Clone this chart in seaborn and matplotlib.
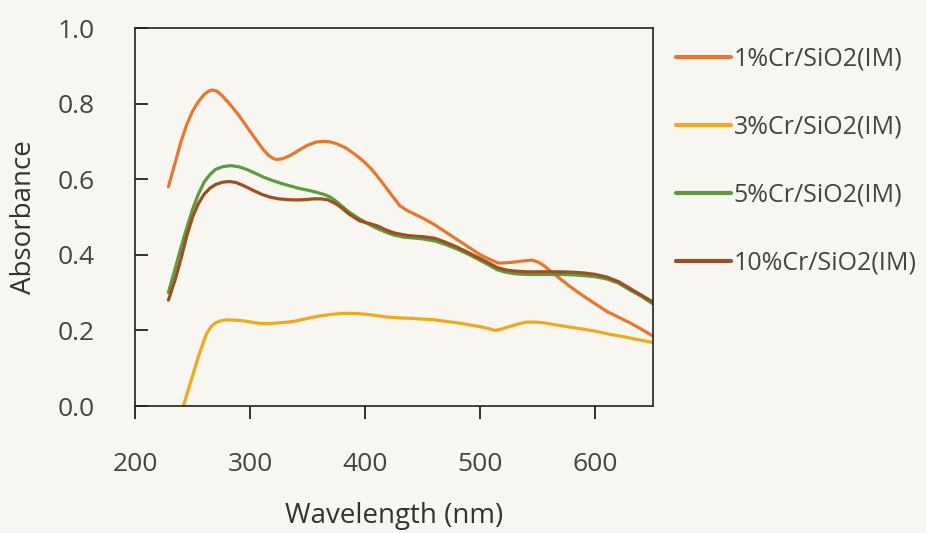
import matplotlib
matplotlib.use("Agg")
import matplotlib.pyplot as plt
import seaborn as sns
import pandas as pd

# ---- data ----
series_names = ["1%Cr/SiO2(IM)", "3%Cr/SiO2(IM)", "5%Cr/SiO2(IM)", "10%Cr/SiO2(IM)"]

wl_1 = [229, 235, 240, 245, 250, 255, 260, 264, 267, 271, 275, 282, 290, 298, 305, 311, 316,
        320, 323, 328, 335, 343, 350, 357, 363, 369, 375, 383, 390, 396, 400, 405,
        410, 415, 420, 425, 430, 436, 440, 450, 460, 470, 480, 490, 500, 508, 516, 523,
        530, 538, 545, 550, 555, 561, 568, 578, 590, 600, 610, 620, 630, 640, 650]
abs_1 = [0.58, 0.645, 0.70, 0.745, 0.78, 0.805, 0.824, 0.833, 0.836, 0.833, 0.823, 0.80,
         0.77, 0.735, 0.705, 0.68, 0.663, 0.655, 0.652, 0.654, 0.663, 0.678, 0.69, 0.698,
         0.70, 0.699, 0.694, 0.683, 0.668, 0.654, 0.643, 0.628, 0.61, 0.59, 0.57, 0.55,
         0.53, 0.518, 0.512, 0.497, 0.48, 0.46, 0.44, 0.42, 0.40, 0.388, 0.378, 0.379,
         0.381, 0.384, 0.386, 0.381, 0.372, 0.357, 0.34, 0.316, 0.29, 0.27, 0.25, 0.235,
         0.22, 0.203, 0.185]

wl_3 = [242, 245, 248, 252, 255, 259, 262, 266, 270, 275, 280, 288, 295, 303, 310, 318, 325,
        333, 340, 350, 360, 370, 380, 390, 400, 410, 420, 430, 440, 450, 460, 470,
        480, 490, 500, 507, 513, 519, 525, 533, 540, 548, 555, 565, 575, 588, 600,
        612, 625, 638, 650]
abs_3 = [0.0, 0.03, 0.06, 0.10, 0.13, 0.165, 0.19, 0.21, 0.22, 0.226, 0.228, 0.227, 0.225,
         0.221, 0.218, 0.218, 0.22, 0.222, 0.225, 0.232, 0.238, 0.242, 0.245, 0.245,
         0.243, 0.239, 0.235, 0.233, 0.232, 0.23, 0.228, 0.224, 0.22, 0.215, 0.21, 0.205,
         0.20, 0.204, 0.21, 0.217, 0.222, 0.222, 0.22, 0.215, 0.21, 0.204, 0.198, 0.19,
         0.183, 0.175, 0.168]

wl_5 = [229, 235, 240, 245, 250, 255, 260, 265, 270, 276, 283, 290, 297, 305, 312, 320, 327,
        335, 342, 350, 357, 365, 370, 375, 380, 385, 390, 395, 402, 410, 418, 425,
        433, 440, 450, 460, 470, 480, 490, 500, 508, 515, 522, 530, 540, 550, 560,
        570, 580, 590, 600, 610, 620, 630, 640, 650]
abs_5 = [0.30, 0.365, 0.42, 0.472, 0.52, 0.56, 0.592, 0.612, 0.626, 0.633, 0.636, 0.633,
         0.626, 0.615, 0.605, 0.596, 0.589, 0.582, 0.576, 0.571, 0.566, 0.559, 0.552,
         0.541, 0.528, 0.515, 0.505, 0.495, 0.483, 0.47, 0.46, 0.452, 0.447, 0.445,
         0.442, 0.437, 0.427, 0.415, 0.401, 0.385, 0.372, 0.36, 0.354, 0.35, 0.348,
         0.348, 0.348, 0.348, 0.347, 0.345, 0.342, 0.336, 0.325, 0.307, 0.29, 0.27]

wl_10 = [229, 235, 240, 245, 250, 255, 260, 265, 270, 276, 282, 288, 295, 303, 310, 318, 325,
         333, 340, 348, 355, 362, 368, 375, 380, 385, 390, 395, 402, 410, 418, 425,
         433, 440, 450, 460, 470, 480, 490, 500, 508, 515, 522, 530, 540, 550, 560,
         570, 580, 590, 600, 610, 620, 630, 640, 650]
abs_10 = [0.28, 0.335, 0.39, 0.45, 0.50, 0.535, 0.56, 0.576, 0.586, 0.592, 0.594, 0.591,
          0.582, 0.57, 0.56, 0.552, 0.548, 0.546, 0.545, 0.546, 0.548, 0.548, 0.545,
          0.534, 0.523, 0.51, 0.5, 0.49, 0.484, 0.477, 0.466, 0.458, 0.453, 0.45, 0.448,
          0.444, 0.433, 0.42, 0.405, 0.39, 0.377, 0.366, 0.36, 0.357, 0.355, 0.355,
          0.355, 0.355, 0.354, 0.352, 0.348, 0.341, 0.329, 0.311, 0.293, 0.275]

x_ticks = [200, 300, 400, 500, 600]
y_ticks = [0.0, 0.2, 0.4, 0.6, 0.8, 1.0]

colors = ["#E8772E", "#F0A81E", "#5E9A3F", "#9C4F1F"]

frames = []
for name, xs, ys in zip(series_names, [wl_1, wl_3, wl_5, wl_10],
                        [abs_1, abs_3, abs_5, abs_10]):
    frames.append(pd.DataFrame({"Wavelength": xs, "Absorbance": ys, "Sample": name}))
df = pd.concat(frames, ignore_index=True)

# ---- style ----
sns.set_theme(style="white")
plt.rcParams["font.family"] = ["Open Sans", "DejaVu Sans"]

bg = "#F8F6F1"
fig = plt.figure(figsize=(9.26, 5.33), dpi=100, facecolor=bg)
ax = fig.add_axes([135 / 926, 1 - 406 / 533, (653 - 135) / 926, (406 - 28) / 533])
ax.set_facecolor(bg)

sns.lineplot(data=df, x="Wavelength", y="Absorbance", hue="Sample",
             hue_order=series_names, palette=colors, sort=False,
             linewidth=2.3, ax=ax, legend=True)

ax.set_xlim(200, 650)
ax.set_ylim(0, 1.0)
ax.set_xticks(x_ticks)
ax.set_xticklabels([str(v) for v in x_ticks])
ax.set_yticks(y_ticks)
ax.set_yticklabels([f"{v:.1f}" for v in y_ticks])

for s in ax.spines.values():
    s.set_color("#222222")
    s.set_linewidth(1.2)

ax.tick_params(axis="y", direction="in", length=9, width=1.3, color="#222222",
               pad=29, labelsize=19, labelcolor="#444444", left=True, right=False)
ax.tick_params(axis="x", direction="out", length=9, width=1.3, color="#222222",
               pad=24, labelsize=19, labelcolor="#444444", bottom=True, top=False)

ax.set_xlabel("Wavelength (nm)", fontsize=20, color="#333333", labelpad=18)
ax.set_ylabel("Absorbance", fontsize=20, color="#333333", labelpad=14)

handles, labels = ax.get_legend_handles_labels()
ax.get_legend().remove()
leg = fig.legend(handles, labels, loc="upper left",
                 bbox_to_anchor=(676 / 926, 1 - 47 / 533),
                 frameon=False, fontsize=18, handlelength=2.2, handletextpad=0.1,
                 labelspacing=1.72, borderpad=0, borderaxespad=0)
for t in leg.get_texts():
    t.set_color("#444444")
for l in leg.get_lines():
    l.set_linewidth(3)

fig.savefig("out.png", dpi=100, facecolor=bg)
